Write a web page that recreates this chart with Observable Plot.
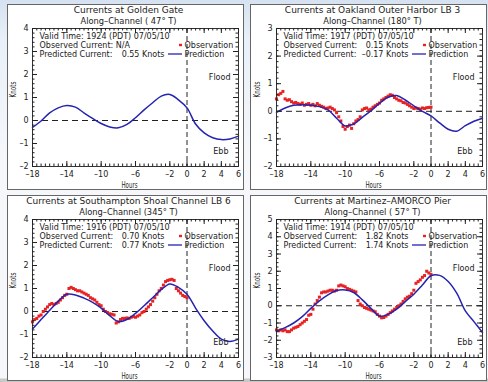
<!DOCTYPE html>
<html><head><meta charset="utf-8">
<script src="https://cdn.jsdelivr.net/npm/d3@7"></script>
<script src="https://cdn.jsdelivr.net/npm/@observablehq/plot@0.6"></script>
<style>
body{margin:0;width:488px;height:382px;overflow:hidden;background:linear-gradient(180deg,#d6e2f1 0px,#e9f0f8 40px,#f5f7fa 160px,#f5f7fa 378px,#c8c8c8 379px);font-family:"DejaVu Sans",sans-serif;}
#wrap{position:relative;width:488px;height:382px;}
.panel{position:absolute;width:237px;height:186px;box-sizing:border-box;border:1px solid #666;background:#fff;}
.panel svg{display:block;}
.panel svg text{white-space:pre;}
</style></head><body><div id="wrap"></div>
<script>
// ---- data ----
const predHours = [-18,-17,-16,-15,-14,-13,-12,-11,-10,-9,-8,-7,-6,-5,-4,-3,-2,-1,0,1,2,3,4,5,6];
const obsHours = [
 -18,-17.75,-17.5,-17.25, -17,-16.75,-16.5,-16.25, -16,-15.75,-15.5,-15.25, -15,-14.75,-14.5,-14.25,
 -14,-13.75,-13.5,-13.25, -13,-12.75,-12.5,-12.25, -12,-11.75,-11.5,-11.25, -11,-10.75,-10.5,-10.25,
 -10,-9.75,-9.5,-9.25, -9,-8.75,-8.5,-8.25, -8,-7.75,-7.5,-7.25, -7,-6.75,-6.5,-6.25,
 -6,-5.75,-5.5,-5.25, -5,-4.75,-4.5,-4.25, -4,-3.75,-3.5,-3.25, -3,-2.75,-2.5,-2.25,
 -2,-1.75,-1.5,-1.25, -1,-0.75,-0.5,-0.25, 0];

const ggPred  = [-0.3,-0.02,0.33,0.55,0.65,0.58,0.33,0.09,-0.13,-0.28,-0.32,-0.17,0.12,0.46,0.77,1.06,1.13,0.9,0.55,-0.15,-0.54,-0.75,-0.83,-0.8,-0.68];
const oakPred = [-0.04,0.12,0.22,0.24,0.22,0.17,0.05,-0.25,-0.53,-0.46,-0.22,0.02,0.29,0.51,0.57,0.41,0.2,0.0,-0.17,-0.42,-0.65,-0.72,-0.52,-0.36,-0.25];
const shoPred = [-0.76,-0.35,0.05,0.45,0.75,0.72,0.58,0.4,0.15,-0.18,-0.44,-0.35,-0.08,0.25,0.6,0.95,1.2,1.05,0.75,0.15,-0.4,-0.85,-1.2,-1.3,-1.2];
const marPred = [-1.47,-1.27,-1.0,-0.63,-0.15,0.28,0.63,0.88,0.92,0.77,0.34,-0.15,-0.6,-0.5,-0.2,0.24,0.67,1.2,1.74,1.76,1.41,0.73,-0.3,-0.92,-1.55];

const oakObs = [
 0.45,0.6,0.65,0.72, 0.45,0.4,0.42,0.35, 0.3,0.32,0.28,0.25, 0.3,0.22,0.25,0.28,
 0.22,0.25,0.2,0.28, 0.22,0.18,0.15,0.1, 0.12,0.15,0.1,0.05, -0.05,-0.2,-0.35,-0.55,
 -0.65,-0.55,-0.5,-0.62, -0.45,-0.35,-0.3,-0.2, 0.05,0.1,0.12,0.05, 0.08,0.15,0.2,0.25,
 0.3,0.4,0.45,0.5, 0.55,0.6,0.58,0.5, 0.45,0.4,0.38,0.32, 0.3,0.25,0.2,0.15,
 0.1,0.12,0.1,0.08, 0.12,0.1,0.13,0.14, 0.15];
const shoObs = [
 -0.45,-0.35,-0.3,-0.2, -0.15,0.0,0.1,0.2, 0.3,0.35,0.3,0.35, 0.4,0.5,0.6,0.7,
 0.75,1.0,1.05,1.0, 0.95,0.9,0.9,0.85, 0.8,0.75,0.7,0.6, 0.55,0.5,0.4,0.3,
 0.25,0.1,0.0,-0.05, -0.1,-0.12,-0.15,-0.5, -0.45,-0.35,-0.3,-0.3, -0.28,-0.3,-0.25,-0.22,
 -0.25,-0.2,-0.15,-0.05, 0.0,0.1,0.2,0.3, 0.45,0.6,0.75,0.9, 1.0,1.15,1.3,1.35,
 1.38,1.4,1.35,1.0, 0.9,0.8,0.7,0.65, 0.6];
const marObs = [
 -1.4,-1.45,-1.4,-1.45, -1.4,-1.5,-1.5,-1.4, -1.3,-1.25,-1.2,-1.1, -1.0,-0.9,-0.8,-0.55,
 -0.5,-0.2,0.1,0.3, 0.5,0.75,0.8,0.8, 0.85,0.9,0.9,0.85, 0.9,1.15,1.2,1.15,
 1.1,1.0,0.95,0.9, 0.85,0.8,0.3,0.1, 0.0,-0.1,-0.15,-0.2, -0.25,-0.3,-0.35,-0.5,
 -0.6,-0.7,-0.68,-0.6, -0.5,-0.4,-0.3,-0.2, -0.1,0.0,0.1,0.25, 0.4,0.5,0.55,0.7,
 0.9,1.3,1.4,1.5, 1.65,1.75,2.0,1.9, 1.82];

const xTickLabels = [-18,-14,-10,-6,-2,0,2,4,6];
const titles = ["Currents at Golden Gate","Currents at Oakland Outer Harbor LB 3","Currents at Southampton Shoal Channel LB 6","Currents at Martinez\u2013AMORCO Pier"];
const subtitles = ["Along\u2013Channel ( 47\u00b0 T)","Along\u2013Channel (180\u00b0 T)","Along\u2013Channel (345\u00b0 T)","Along\u2013Channel ( 57\u00b0 T)"];
const validTimes = ["Valid Time: 1924 (PDT) 07/05/10","Valid Time: 1917 (PDT) 07/05/10","Valid Time: 1916 (PDT) 07/05/10","Valid Time: 1914 (PDT) 07/05/10"];
const observedText = [null,"0.15 Knots","0.70 Knots","1.82 Knots"];
const predictedText = ["0.55 Knots","\u20130.17 Knots","0.77 Knots","1.74 Knots"];
const yDomains = [[-2,4],[-2,3],[-2,4],[-3,5]];
const yTickLabels = [[-2,-1,0,1,2,3,4],[-2,-1,0,1,2,3],[-2,-1,0,1,2,3,4],[-3,-2,-1,0,1,2,3,4,5]];
const yMinorStep = [0.2,0.2,0.2,0.25];
const preds = [ggPred, oakPred, shoPred, marPred];
const obss = [null, oakObs, shoObs, marObs];

// ---- style ----
const RED = "#e82222", BLUE = "#2424b0", INK = "#222";
const FONT = "'DejaVu Sans', sans-serif";
const positions = [[7,4],[250,4],[7,195],[250,195]];
const marginsLR = [[24,5],[25,4],[24,5],[25,4]];
const fmt = d => d < 0 ? "\u2013" + (-d) : String(d);

function makePanel(i) {
  const W = 235, H = 184, mt = 23, mb = 23;
  const [ml, mr] = marginsLR[i];
  const fw = W - ml - mr, fh = H - mt - mb;
  const pred = predHours.map((h, k) => ({h, v: preds[i][k]}));
  const obs = obss[i] ? obsHours.map((h, k) => ({h, v: obss[i][k]})) : [];
  const [y0, y1] = yDomains[i];
  const xMinor = d3.range(-18, 6.01, 0.5);
  const yMinor = d3.range(y0, y1 + 0.001, yMinorStep[i]);
  const swatch = (index, scales, values, dims) => {
    const g = d3.create("svg:g");
    const x0 = dims.marginLeft, yy = dims.marginTop;
    g.append("rect").attr("x", x0 + 147).attr("y", yy + 15.8).attr("width", 3).attr("height", 2.4).attr("fill", RED);
    g.append("line").attr("x1", x0 + 136).attr("x2", x0 + 150).attr("y1", yy + 26).attr("y2", yy + 26)
      .attr("stroke", BLUE).attr("stroke-width", 1.3);
    return g.node();
  };
  const txt = (s, o) => Plot.text([s], {text: d => d, fill: INK, fontSize: 8, lineAnchor: "middle", ...o});
  const marks = [
    Plot.ruleY([0], {stroke: INK, strokeDasharray: "6,4", strokeWidth: 1}),
    Plot.ruleX([0], {stroke: INK, strokeDasharray: "5,3", strokeWidth: 1}),
    Plot.dot(obs, {x: "h", y: "v", symbol: "square", r: 1.7, fill: RED, stroke: "none"}),
    Plot.line(pred, {x: "h", y: "v", stroke: BLUE, strokeWidth: 1.5, curve: "catmull-rom"}),
    Plot.frame({stroke: "#333", strokeWidth: 1}),
    Plot.tickX(xMinor, {x: d => d, insetTop: fh - 2.5, stroke: INK}),
    Plot.tickX(xMinor, {x: d => d, insetBottom: fh - 2.5, stroke: INK}),
    Plot.tickX(xTickLabels, {x: d => d, insetTop: fh - 5, stroke: INK}),
    Plot.tickX(xTickLabels, {x: d => d, insetBottom: fh - 5, stroke: INK}),
    Plot.tickY(yMinor, {y: d => d, insetRight: fw - 2.5, stroke: INK}),
    Plot.tickY(yMinor, {y: d => d, insetLeft: fw - 2.5, stroke: INK}),
    Plot.tickY(yTickLabels[i], {y: d => d, insetRight: fw - 5, stroke: INK}),
    Plot.tickY(yTickLabels[i], {y: d => d, insetLeft: fw - 5, stroke: INK}),
    Plot.axisX(xTickLabels, {tickSize: 0, tickPadding: 5, label: null, fontSize: 8, fill: INK, tickFormat: fmt}),
    Plot.axisY(yTickLabels[i], {tickSize: 0, tickPadding: 4, label: null, fontSize: 8, fill: INK, tickFormat: fmt}),
    txt(titles[i], {frameAnchor: "top", dx: -7, dy: -18, fontSize: 9}),
    txt(subtitles[i], {frameAnchor: "top", dx: -7, dy: -7, fontSize: 8.3}),
    txt("Knots", {frameAnchor: "left", dx: -19, rotate: -90, fontSize: 8.5}),
    txt("Hours", {frameAnchor: "bottom", dx: -6, dy: 19, fontSize: 8.5}),
    txt(validTimes[i], {frameAnchor: "top-left", textAnchor: "start", dx: 7, dy: 8}),
    txt(observedText[i] ? "Observed Current:" : "Observed Current: N/A", {frameAnchor: "top-left", textAnchor: "start", dx: 7, dy: 17}),
    txt("Predicted Current:", {frameAnchor: "top-left", textAnchor: "start", dx: 7, dy: 26}),
    txt("Observation", {frameAnchor: "top-left", textAnchor: "start", dx: 152, dy: 17}),
    txt("Prediction", {frameAnchor: "top-left", textAnchor: "start", dx: 152, dy: 26}),
    txt(predictedText[i], {frameAnchor: "top-left", textAnchor: "end", dx: 132, dy: 26}),
    txt("Flood", {frameAnchor: "top-right", textAnchor: "end", dx: -8, dy: 49}),
    txt("Ebb", {frameAnchor: "bottom-right", textAnchor: "end", dx: -10, dy: -15}),
    swatch
  ];
  if (observedText[i]) marks.push(txt(observedText[i], {frameAnchor: "top-left", textAnchor: "end", dx: 132, dy: 17}));
  const chart = Plot.plot({
    width: W, height: H,
    marginTop: mt, marginBottom: mb, marginLeft: ml, marginRight: mr,
    style: {background: "#fff", fontFamily: FONT, fontSize: "8px", color: INK},
    x: {domain: [-18, 6], axis: null},
    y: {domain: yDomains[i], axis: null},
    marks
  });
  // narrow axis titles like the original
  d3.select(chart).selectAll("text").each(function() {
    const t = this.textContent;
    if (t === "Hours" || t === "Knots") {
      d3.select(this).attr("textLength", 16).attr("lengthAdjust", "spacingAndGlyphs");
    }
  });
  const div = document.createElement("div");
  div.className = "panel";
  div.style.left = positions[i][0] + "px";
  div.style.top = positions[i][1] + "px";
  div.appendChild(chart);
  document.getElementById("wrap").appendChild(div);
}
for (let i = 0; i < 4; i++) makePanel(i);
</script>
</body></html>
